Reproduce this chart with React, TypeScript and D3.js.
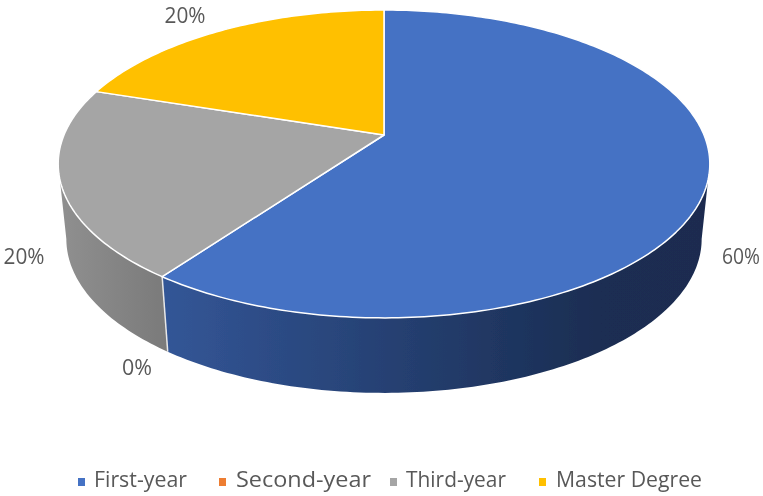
import React from "react";
import * as d3 from "d3";

const categories = ["First-year", "Second-year", "Third-year", "Master Degree"];
const shares = [60, 0, 20, 20];
const labels = ["60%", "0%", "20%", "20%"];
const colors = ["#4472C4", "#ED7D31", "#A5A5A5", "#FFC000"];
const labelPos = [[741, 258], [137, 369], [24, 258], [185, 17]];
const labelW = [38, 30, 41, 41];
const legendX = [78, 219, 390, 539];
const legendTextX = [94, 236, 406, 556];
const legendTextW = [93, 135, 100, 146];

const W = 763, H = 496;
// perspective projection of the pie's top disc
const cx = 384, cy = 135, A = 320, B = 148.5, k = 0.188;
const depth = 75, bottomScale = 0.975;

const pie = d3.pie<number>().sort(null).value((d) => d)(shares);

function top(a: number): [number, number] {
  const u = Math.sin(a), v = -Math.cos(a), d = 1 - k * v;
  return [cx + (A * u) / d, cy + (B * v) / d];
}
function bottom(a: number): [number, number] {
  const [x, y] = top(a);
  return [cx + (x - cx) * bottomScale, y + depth];
}
const line = d3.line();
function samples(a0: number, a1: number) {
  const n = Math.max(2, Math.ceil(Math.abs(a1 - a0) * 60));
  return d3.range(n + 1).map((i) => a0 + ((a1 - a0) * i) / n);
}
function slicePath(a0: number, a1: number) {
  return line([[cx, cy], ...samples(a0, a1).map(top)]) + "Z";
}
function wallPath(a0: number, a1: number) {
  return line([...samples(a0, a1).map(top), ...samples(a1, a0).map(bottom)]) + "Z";
}
// angles at which the rim's silhouette leaves the disc
const silR = Math.PI - Math.acos(k);
const silL = Math.PI + Math.acos(k);

export default function App() {
  const split = pie[0].endAngle;
  return (
    <svg width={W} height={H} style={{ position: "fixed", left: 0, top: 0, background: "#fff" }}>
      <defs>
        <linearGradient id="blueWall" gradientUnits="userSpaceOnUse" x1={162} x2={710} y1={0} y2={0}>
          <stop offset="0" stopColor="#335697" />
          <stop offset="0.5" stopColor="#233c6b" />
          <stop offset="0.8" stopColor="#1a2d52" />
          <stop offset="1" stopColor="#1a2c50" />
        </linearGradient>
        <linearGradient id="greyWall" gradientUnits="userSpaceOnUse" x1={58} x2={168} y1={0} y2={0}>
          <stop offset="0" stopColor="#909090" />
          <stop offset="1" stopColor="#7a7a7a" />
        </linearGradient>
        <filter id="soft" filterUnits="userSpaceOnUse" x={0} y={0} width={W} height={H}>
          <feGaussianBlur stdDeviation="0.6" />
        </filter>
      </defs>
      <g filter="url(#soft)">
        <path d={wallPath(silR, split)} fill="url(#blueWall)" />
        <path d={wallPath(split, silL)} fill="url(#greyWall)" />
        <path d={line([top(split), bottom(split)]) ?? ""} stroke="#e8e8e8" strokeWidth={1.5} />
        {pie.map((s, i) =>
          s.endAngle > s.startAngle ? (
            <path key={i} d={slicePath(s.startAngle, s.endAngle)} fill={colors[i]} stroke="#fff" strokeWidth={1.5} strokeLinejoin="round" />
          ) : null
        )}
        {labels.map((l, i) => (
          <text key={i} x={labelPos[i][0]} y={labelPos[i][1]} textAnchor="middle" dominantBaseline="middle"
            fontFamily="'Open Sans', sans-serif" fontSize={21} fill="#595959"
            textLength={labelW[i]} lengthAdjust="spacingAndGlyphs">{l}</text>
        ))}
        {categories.map((c, i) => (
          <g key={c}>
            <rect x={legendX[i]} y={478} width={7} height={8} fill={colors[i]} />
            <text x={legendTextX[i]} y={481} dominantBaseline="middle" fontFamily="'Open Sans', sans-serif" fontSize={22}
              fill="#595959" textLength={legendTextW[i]} lengthAdjust="spacingAndGlyphs">{c}</text>
          </g>
        ))}
      </g>
    </svg>
  );
}
